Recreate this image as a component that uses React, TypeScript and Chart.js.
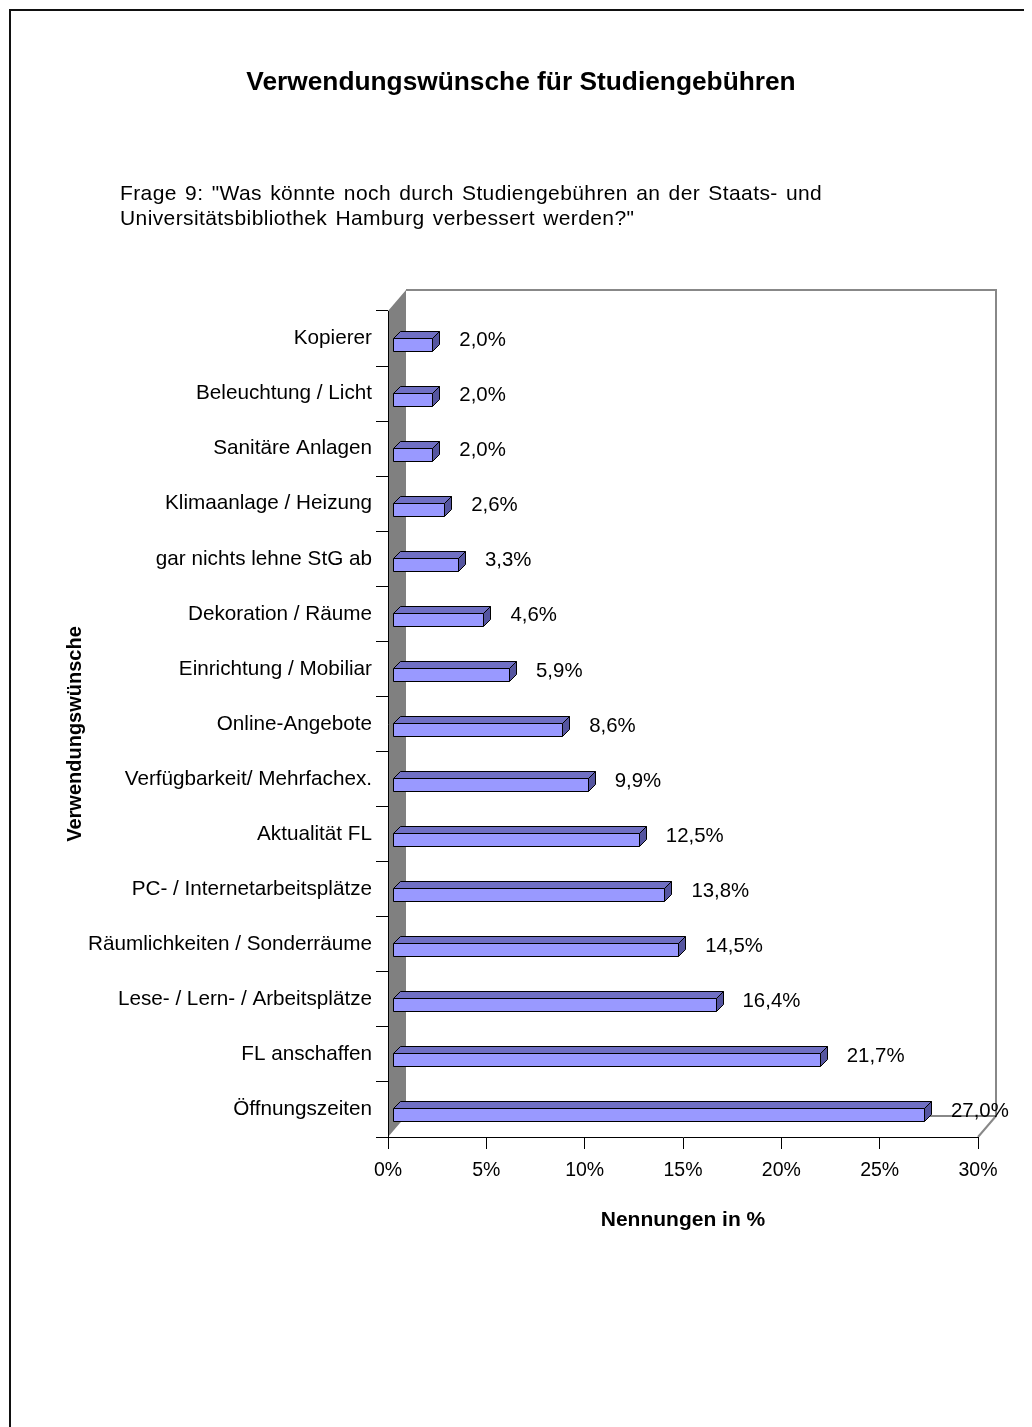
import React, { useEffect, useRef } from "react";
import { Chart, registerables } from "chart.js";

Chart.register(...registerables);

const categories: string[] = [
  "Kopierer",
  "Beleuchtung / Licht",
  "Sanitäre Anlagen",
  "Klimaanlage / Heizung",
  "gar nichts lehne StG ab",
  "Dekoration / Räume",
  "Einrichtung / Mobiliar",
  "Online-Angebote",
  "Verfügbarkeit/ Mehrfachex.",
  "Aktualität FL",
  "PC- / Internetarbeitsplätze",
  "Räumlichkeiten / Sonderräume",
  "Lese- / Lern- / Arbeitsplätze",
  "FL anschaffen",
  "Öffnungszeiten",
];

const values: number[] = [2.0, 2.0, 2.0, 2.6, 3.3, 4.6, 5.9, 8.6, 9.9, 12.5, 13.8, 14.5, 16.4, 21.7, 27.0];

const xMin = 0;
const xMax = 30;
const xStep = 5;

const chartTitle = "Verwendungswünsche für Studiengebühren";
const subtitleLines: string[] = [
  'Frage 9: "Was könnte noch durch Studiengebühren an der Staats- und',
  'Universitätsbibliothek Hamburg verbessert werden?"',
];
const xAxisTitle = "Nennungen in %";
const yAxisTitle = "Verwendungswünsche";

const FONT = '"Liberation Sans", Arial, Helvetica, sans-serif';
const W = 1024;
const H = 1419;
const WALL_DX = 18;
const WALL_DY = 21;
const BAR_D = 7;

const fmt = (v: number) => v.toFixed(1).replace(".", ",") + "%";

const threeDPlugin = {
  id: "threeD",
  beforeDraw(chart: any) {
    const { ctx, chartArea: a } = chart;
    ctx.save();
    ctx.fillStyle = "#ffffff";
    ctx.fillRect(0, 0, W, H);
    // outer frame
    ctx.strokeStyle = "#111111";
    ctx.lineWidth = 2;
    ctx.beginPath();
    ctx.moveTo(2, H);
    ctx.lineTo(2, 2);
    ctx.lineTo(W, 2);
    ctx.stroke();
    // left side wall
    ctx.fillStyle = "#808080";
    ctx.beginPath();
    ctx.moveTo(a.left, a.top);
    ctx.lineTo(a.left + WALL_DX, a.top - WALL_DY);
    ctx.lineTo(a.left + WALL_DX, a.bottom - WALL_DY);
    ctx.lineTo(a.left, a.bottom);
    ctx.closePath();
    ctx.fill();
    // back wall & floor edges
    ctx.strokeStyle = "#888888";
    ctx.lineWidth = 2;
    ctx.beginPath();
    ctx.moveTo(a.left + WALL_DX, a.top - WALL_DY);
    ctx.lineTo(a.right + WALL_DX, a.top - WALL_DY);
    ctx.lineTo(a.right + WALL_DX, a.bottom - WALL_DY);
    ctx.lineTo(a.left + WALL_DX, a.bottom - WALL_DY);
    ctx.moveTo(a.right + WALL_DX, a.bottom - WALL_DY);
    ctx.lineTo(a.right, a.bottom);
    ctx.stroke();
    ctx.restore();
  },
  afterDatasetsDraw(chart: any) {
    const { ctx } = chart;
    const xs = chart.scales.x;
    const ys = chart.scales.y;
    ctx.save();
    ctx.lineWidth = 1;
    ctx.strokeStyle = "#000000";
    ctx.lineJoin = "miter";
    values.forEach((v, i) => {
      const c = Math.round(ys.getPixelForValue(i));
      const x0 = Math.round(xs.getPixelForValue(0)) + 5.5;
      const x1 = Math.round(xs.getPixelForValue(v)) + 5.5;
      const fT = c - 0.5;
      const fB = c + 12.5;
      const d = BAR_D;
      // top face
      ctx.fillStyle = "#7070C4";
      ctx.beginPath();
      ctx.moveTo(x0, fT);
      ctx.lineTo(x0 + d, fT - d);
      ctx.lineTo(x1 + d, fT - d);
      ctx.lineTo(x1, fT);
      ctx.closePath();
      ctx.fill();
      ctx.stroke();
      // side face
      ctx.fillStyle = "#5555A0";
      ctx.beginPath();
      ctx.moveTo(x1, fT);
      ctx.lineTo(x1 + d, fT - d);
      ctx.lineTo(x1 + d, fB - d);
      ctx.lineTo(x1, fB);
      ctx.closePath();
      ctx.fill();
      ctx.stroke();
      // front face
      ctx.fillStyle = "#9999FF";
      ctx.beginPath();
      ctx.rect(x0, fT, x1 - x0, fB - fT);
      ctx.fill();
      ctx.stroke();
    });
    ctx.restore();
  },
  afterDraw(chart: any) {
    const { ctx, chartArea: a } = chart;
    const xs = chart.scales.x;
    const ys = chart.scales.y;
    ctx.save();
    ctx.fillStyle = "#000000";
    // value labels
    ctx.font = `20.4px ${FONT}`;
    ctx.textAlign = "left";
    ctx.textBaseline = "middle";
    values.forEach((v, i) => {
      const c = ys.getPixelForValue(i);
      const x1 = xs.getPixelForValue(v) + 5;
      ctx.fillText(fmt(v), x1 + 27, c + 2);
    });
    // title
    ctx.font = `bold 26.3px ${FONT}`;
    ctx.textAlign = "center";
    ctx.textBaseline = "alphabetic";
    ctx.fillText(chartTitle, 513, 82);
    // subtitle
    ctx.font = `21px ${FONT}`;
    ctx.textAlign = "left";
    (ctx as any).wordSpacing = "2px";
    (ctx as any).letterSpacing = "0.4px";
    subtitleLines.forEach((line, i) => {
      ctx.fillText(line, 112, 192 + i * 25);
    });
    (ctx as any).wordSpacing = "0px";
    (ctx as any).letterSpacing = "0px";
    // x axis title
    ctx.font = `bold 21px ${FONT}`;
    ctx.textAlign = "center";
    ctx.fillText(xAxisTitle, (a.left + a.right) / 2, 1218);
    // y axis title
    ctx.font = `bold 20px ${FONT}`;
    ctx.translate(73, 726);
    ctx.rotate(-Math.PI / 2);
    ctx.fillText(yAxisTitle, 0, 0);
    ctx.restore();
  },
};

export default function App() {
  const ref = useRef<HTMLCanvasElement | null>(null);
  useEffect(() => {
    if (!ref.current) return;
    const chart = new Chart(ref.current, {
      type: "bar",
      data: {
        labels: categories,
        datasets: [
          {
            label: "Nennungen in %",
            data: values,
            backgroundColor: "rgba(0,0,0,0)",
            borderWidth: 0,
          },
        ],
      },
      options: {
        indexAxis: "y",
        responsive: false,
        animation: false,
        events: [],
        layout: { padding: { left: 50, right: 54, top: 303, bottom: 190 } },
        plugins: {
          legend: { display: false },
          tooltip: { enabled: false },
          title: { display: false },
        },
        scales: {
          x: {
            type: "linear",
            min: xMin,
            max: xMax,
            afterFit: (s: any) => {
              s.height = 100;
            },
            ticks: {
              stepSize: xStep,
              color: "#000",
              padding: 10,
              font: { family: FONT, size: 19.5 },
              callback: (v: any) => `${v}%`,
            },
            grid: {
              display: true,
              drawOnChartArea: false,
              drawTicks: true,
              tickLength: 12,
              color: "#000",
              lineWidth: 1,
            },
            border: { display: true, color: "#000", width: 1 },
          },
          y: {
            type: "category",
            afterFit: (s: any) => {
              s.width = 330;
            },
            ticks: {
              color: "#000",
              padding: 4,
              font: { family: FONT, size: 20.7 },
            },
            grid: {
              display: true,
              offset: true,
              drawOnChartArea: false,
              drawTicks: true,
              tickLength: 12,
              color: "#000",
              lineWidth: 1,
            },
            border: { display: true, color: "#000", width: 1 },
          },
        },
      },
      plugins: [threeDPlugin],
    });
    return () => chart.destroy();
  }, []);
  return (
    <div style={{ width: W, height: H }}>
      <canvas ref={ref} width={W} height={H} style={{ display: "block", width: W, height: H }} />
    </div>
  );
}
